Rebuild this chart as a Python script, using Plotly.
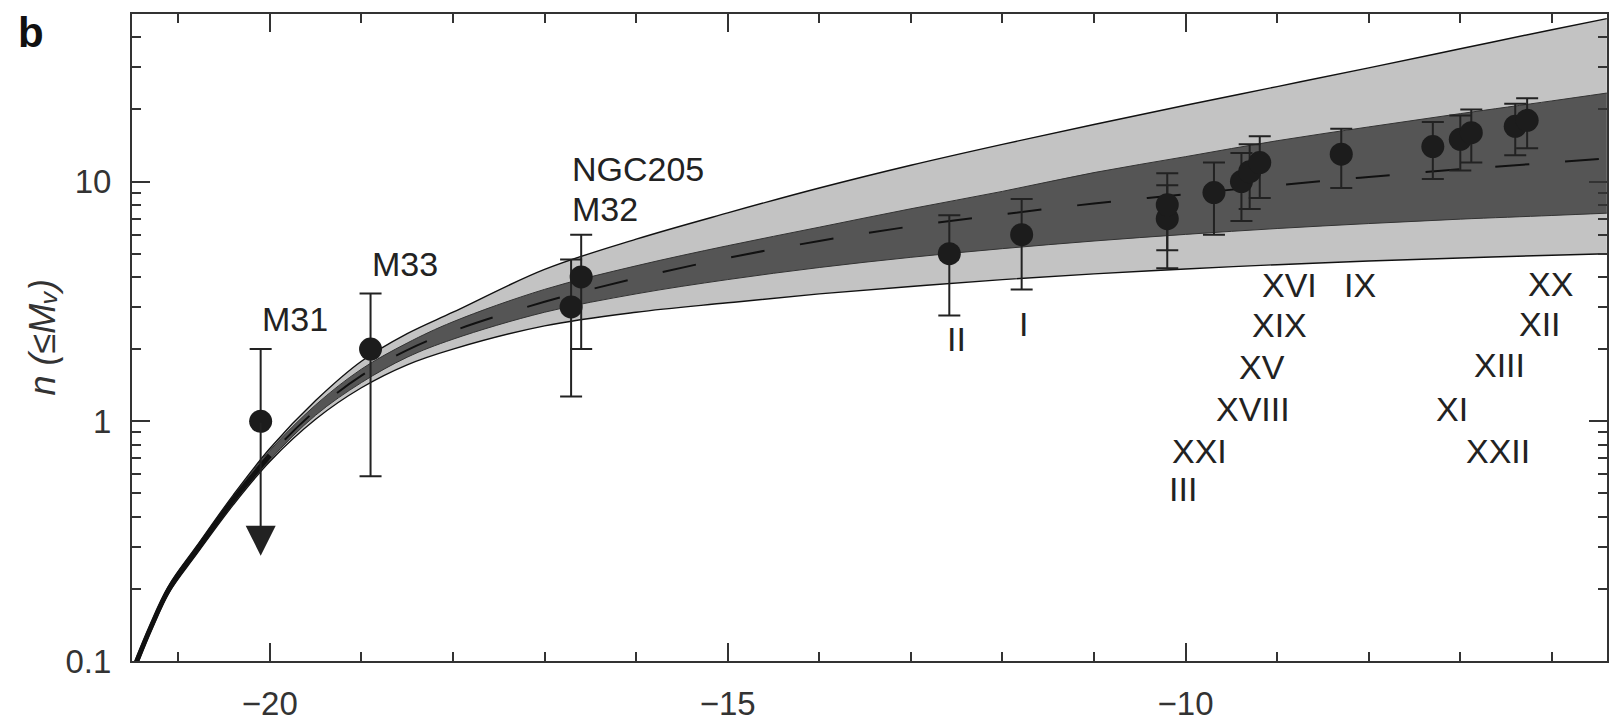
import math
import plotly.graph_objects as go

# ---------------- data ----------------
# model curve grid (absolute magnitude M_V)
MAG_GRID = [-21.5, -21.3, -21.1, -20.8, -20.4, -20.0, -19.5, -19.0, -18.5, -18.0, -17.0,
            -16.0, -15.0, -14.0, -13.0, -12.0, -11.0, -10.0, -9.0, -8.0, -7.0, -6.0, -5.4]
CENTER = [0.09, 0.138, 0.20, 0.29, 0.47, 0.72, 1.11, 1.55, 1.98, 2.38, 3.15,
          3.95, 4.8, 5.65, 6.5, 7.3, 8.1, 8.85, 9.65, 10.45, 11.25, 12.0, 12.5]
DARK_LO = [0.087, 0.134, 0.195, 0.282, 0.453, 0.69, 1.06, 1.45, 1.85, 2.2, 2.85,
           3.4, 3.9, 4.38, 4.83, 5.25, 5.65, 6.02, 6.37, 6.68, 6.97, 7.22, 7.38]
DARK_HI = [0.093, 0.142, 0.205, 0.298, 0.487, 0.755, 1.17, 1.65, 2.12, 2.6, 3.55,
           4.45, 5.4, 6.45, 7.7, 9.1, 10.9, 12.7, 14.8, 16.9, 19.2, 21.7, 23.4]
LIGHT_LO = [0.086, 0.133, 0.193, 0.279, 0.448, 0.68, 1.02, 1.38, 1.72, 2.0, 2.5,
            2.85, 3.12, 3.4, 3.65, 3.9, 4.12, 4.32, 4.5, 4.66, 4.8, 4.93, 5.0]
LIGHT_HI = [0.094, 0.143, 0.207, 0.301, 0.492, 0.77, 1.22, 1.78, 2.32, 2.85, 4.3,
            5.75, 7.4, 9.4, 11.7, 14.3, 17.3, 20.8, 24.9, 29.8, 35.8, 43.0, 47.8]
N_CONVERGED = 6  # grid points at the bright end where all curves merge

# satellites: magnitude, cumulative count, error bars
SAT_MAG = [-20.1, -18.9, -16.71, -16.6, -12.58, -11.79, -10.2, -10.2, -9.69, -9.39,
           -9.30, -9.19, -8.30, -7.30, -7.00, -6.88, -6.40, -6.27]
SAT_N = [1, 2, 3, 4, 5, 6, 7, 8, 9, 10, 11, 12, 13, 14, 15, 16, 17, 18]
ERR_PLUS = [1.0, 1.41, 1.73, 2.0, 2.24, 2.45, 2.65, 2.83, 3.0, 3.16,
            3.32, 3.46, 3.61, 3.74, 3.87, 4.0, 4.12, 4.24]
ERR_MINUS = [0.0, 1.41, 1.73, 2.0, 2.24, 2.45, 2.65, 2.83, 3.0, 3.16,
             3.32, 3.46, 3.61, 3.74, 3.87, 4.0, 4.12, 4.24]
M31_LIMIT = 0.275  # arrow tip for M31

# labels
LABELS = ["M31", "M33", "II", "I", "XVI", "IX", "XIX", "XV", "XVIII", "XXI", "III",
          "XI", "XXII", "XX", "XII", "XIII"]
LABEL_X = [-19.73, -18.52, -12.5, -11.77, -8.87, -8.09, -8.97, -9.17, -9.26, -9.85,
           -10.03, -7.09, -6.59, -6.01, -6.13, -6.57]
LABEL_Y = [2.68, 4.54, 2.2, 2.54, 3.69, 3.69, 2.51, 1.69, 1.12, 0.755, 0.523,
           1.12, 0.755, 3.73, 2.55, 1.71]
LEFT_LABELS = ["NGC205", "M32"]
LEFT_LABEL_X = [-16.72, -16.72]
LEFT_LABEL_Y = [11.3, 7.69]

X_TICKS = [-20, -15, -10]
X_TICKTEXT = ["\u221220", "\u221215", "\u221210"]
X_MINOR = [-21, -19, -18, -17, -16, -14, -13, -12, -11, -9, -8, -7, -6]
Y_TICKS = [0.1, 1, 10]
Y_TICKTEXT = ["0.1", "1", "10"]
Y_MINOR = [0.2, 0.3, 0.4, 0.5, 0.6, 0.7, 0.8, 0.9, 2, 3, 4, 5, 6, 7, 8, 9, 20, 30, 40]
Y_TITLE = "n (\u2264M\u1d65)"

FONT = "Arial, Liberation Sans, Helvetica, sans-serif"
INK = "#222222"
AX = "#333333"

fig = go.Figure()

spl = dict(shape="spline", smoothing=1.0)
# 2-sigma band
fig.add_trace(go.Scatter(x=MAG_GRID, y=LIGHT_LO, mode="lines",
                         line=dict(color="#111111", width=1.4, **spl),
                         hoverinfo="skip", showlegend=False))
fig.add_trace(go.Scatter(x=MAG_GRID, y=LIGHT_HI, mode="lines", fill="tonexty",
                         fillcolor="#c3c3c3",
                         line=dict(color="#111111", width=1.4, **spl),
                         hoverinfo="skip", showlegend=False))
# 1-sigma band
fig.add_trace(go.Scatter(x=MAG_GRID, y=DARK_LO, mode="lines",
                         line=dict(color="#333333", width=1, **spl),
                         hoverinfo="skip", showlegend=False))
fig.add_trace(go.Scatter(x=MAG_GRID, y=DARK_HI, mode="lines", fill="tonexty",
                         fillcolor="#555555",
                         line=dict(color="#333333", width=1, **spl),
                         hoverinfo="skip", showlegend=False))
# bright end where the bands merge into a single black curve
fig.add_trace(go.Scatter(x=MAG_GRID[:N_CONVERGED], y=CENTER[:N_CONVERGED], mode="lines",
                         line=dict(color="#111111", width=5, **spl),
                         hoverinfo="skip", showlegend=False))
# mean
fig.add_trace(go.Scatter(x=MAG_GRID, y=CENTER, mode="lines",
                         line=dict(color="#111111", width=2, dash="34px,36px", **spl),
                         hoverinfo="skip", showlegend=False))

# satellites
fig.add_trace(go.Scatter(
    x=SAT_MAG, y=SAT_N, mode="markers",
    marker=dict(size=23, color="#1c1c1c"),
    error_y=dict(type="data", symmetric=False, array=ERR_PLUS, arrayminus=ERR_MINUS,
                 color=INK, thickness=2, width=11),
    showlegend=False))

# M31 upper-limit arrow
fig.add_annotation(x=SAT_MAG[0], y=math.log10(M31_LIMIT), ax=SAT_MAG[0],
                   ay=math.log10(SAT_N[0]), xref="x", yref="y", axref="x", ayref="y",
                   showarrow=True, arrowhead=2, arrowsize=3.0, arrowwidth=2,
                   arrowcolor=INK, text="")

for t, xv, yv in zip(LABELS, LABEL_X, LABEL_Y):
    fig.add_annotation(x=xv, y=math.log10(yv), text=t, showarrow=False,
                       xanchor="center", yanchor="middle",
                       font=dict(family=FONT, size=34, color=INK))
for t, xv, yv in zip(LEFT_LABELS, LEFT_LABEL_X, LEFT_LABEL_Y):
    fig.add_annotation(x=xv, y=math.log10(yv), text=t, showarrow=False,
                       xanchor="left", yanchor="middle",
                       font=dict(family=FONT, size=34, color=INK))

# panel letter
fig.add_annotation(xref="paper", yref="paper", x=-0.0785, y=0.972, text="<b>b</b>",
                   showarrow=False, xanchor="left", yanchor="middle",
                   font=dict(family=FONT, size=42, color="#111111"))

# y-axis title
fig.add_annotation(xref="paper", yref="paper", x=-0.061, y=0.50, text=Y_TITLE,
                   textangle=-90, showarrow=False, xanchor="center", yanchor="middle",
                   font=dict(family=FONT, size=36, color=AX, style="italic"))

axis_common = dict(showline=True, linecolor=AX, linewidth=2, mirror="ticks",
                   ticks="inside", tickcolor=AX, tickwidth=2, ticklen=18,
                   showgrid=False, zeroline=False,
                   tickfont=dict(family=FONT, size=33, color=AX))

fig.update_xaxes(range=[-21.505, -5.398], tickmode="array", tickvals=X_TICKS,
                 ticktext=X_TICKTEXT,
                 minor=dict(tickvals=X_MINOR, ticks="inside", ticklen=9, tickwidth=2,
                            tickcolor=AX, showgrid=False),
                 ticklabelstandoff=12, **axis_common)
fig.update_yaxes(type="log", range=[-1, math.log10(50)], tickmode="array",
                 tickvals=Y_TICKS, ticktext=Y_TICKTEXT,
                 minor=dict(tickvals=Y_MINOR, ticks="inside", ticklen=9, tickwidth=2,
                            tickcolor=AX, showgrid=False),
                 ticklabelstandoff=12, **axis_common)

fig.update_layout(width=1610, height=723,
                  margin=dict(l=132, r=1, t=14, b=48),
                  paper_bgcolor="white", plot_bgcolor="white",
                  font=dict(family=FONT, color=INK))

fig.write_html("out.html")
